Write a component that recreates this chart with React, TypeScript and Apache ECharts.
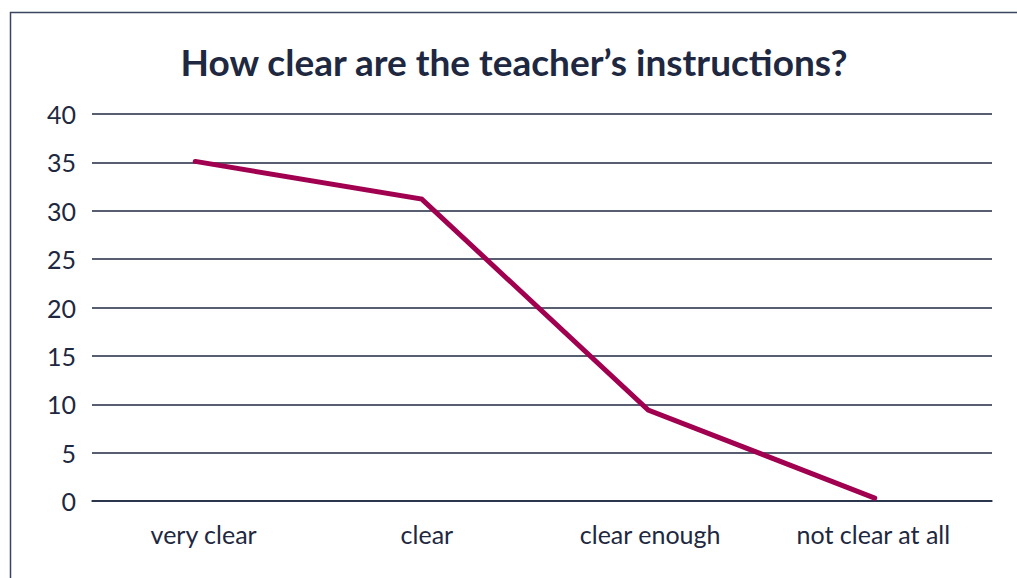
import React, { useEffect, useRef } from "react";
import * as echarts from "echarts";

const titleText = "How clear are the teacher’s instructions?";
const categories = ["very clear", "clear", "clear enough", "not clear at all"];
const values = [35.1, 31.2, 9.4, 0.3];
const yMin = 0;
const yMax = 40;
const yInterval = 5;

const navy = "#1e2840";
const maroon = "#a0004f";

export default function App() {
  const ref = useRef<HTMLDivElement>(null);
  useEffect(() => {
    if (!ref.current) return;
    const chart = echarts.init(ref.current, undefined, { renderer: "svg" });
    const top = 114;
    const bottom = 77;
    chart.setOption({
      animation: false,
      backgroundColor: "#ffffff",
      textStyle: { fontFamily: "Lato" },
      title: {
        text: titleText,
        left: 509,
        textAlign: "center",
        top: 38,
        textStyle: { fontFamily: "Lato", fontWeight: "bold", fontSize: 37, color: navy },
      },
      graphic: [
        {
          type: "rect",
          shape: { x: 10.5, y: 12.5, width: 1100, height: 700 },
          style: { fill: "none", stroke: "#3a4560", lineWidth: 1.5 },
          silent: true,
        },
      ],
      grid: [
        { left: 92, right: 25, top, bottom, containLabel: false },
        { left: 92, right: 32, top, bottom, containLabel: false },
        { left: 82, right: 29, top, bottom, containLabel: false },
      ],
      xAxis: [
        {
          gridIndex: 0,
          type: "category",
          data: categories,
          boundaryGap: true,
          axisLine: { show: true, lineStyle: { color: navy, width: 1.5 } },
          axisTick: { show: false },
          axisLabel: { show: false },
        },
        {
          gridIndex: 1,
          type: "category",
          data: categories,
          boundaryGap: true,
          axisLine: { show: false },
          axisTick: { show: false },
          axisLabel: { color: navy, fontSize: 25, margin: 20, fontFamily: "Lato" },
        },
        {
          gridIndex: 2,
          type: "category",
          data: categories,
          boundaryGap: true,
          show: false,
        },
      ],
      yAxis: [
        {
          gridIndex: 0,
          type: "value",
          min: yMin,
          max: yMax,
          interval: yInterval,
          axisLine: { show: false },
          axisTick: { show: false },
          axisLabel: { color: navy, fontSize: 25, margin: 16, fontFamily: "Lato" },
          splitLine: { show: true, lineStyle: { color: navy, width: 1.5 } },
        },
        {
          gridIndex: 1,
          type: "value",
          min: yMin,
          max: yMax,
          interval: yInterval,
          show: false,
        },
        {
          gridIndex: 2,
          type: "value",
          min: yMin,
          max: yMax,
          interval: yInterval,
          show: false,
        },
      ],
      series: [
        {
          type: "line",
          xAxisIndex: 2,
          yAxisIndex: 2,
          data: values,
          showSymbol: false,
          symbol: "none",
          lineStyle: { color: maroon, width: 5, cap: "round", join: "miter" },
        },
      ],
    });
    return () => chart.dispose();
  }, []);
  return (
    <div
      ref={ref}
      style={{ position: "fixed", left: 0, top: 0, width: 1017, height: 578 }}
    />
  );
}
